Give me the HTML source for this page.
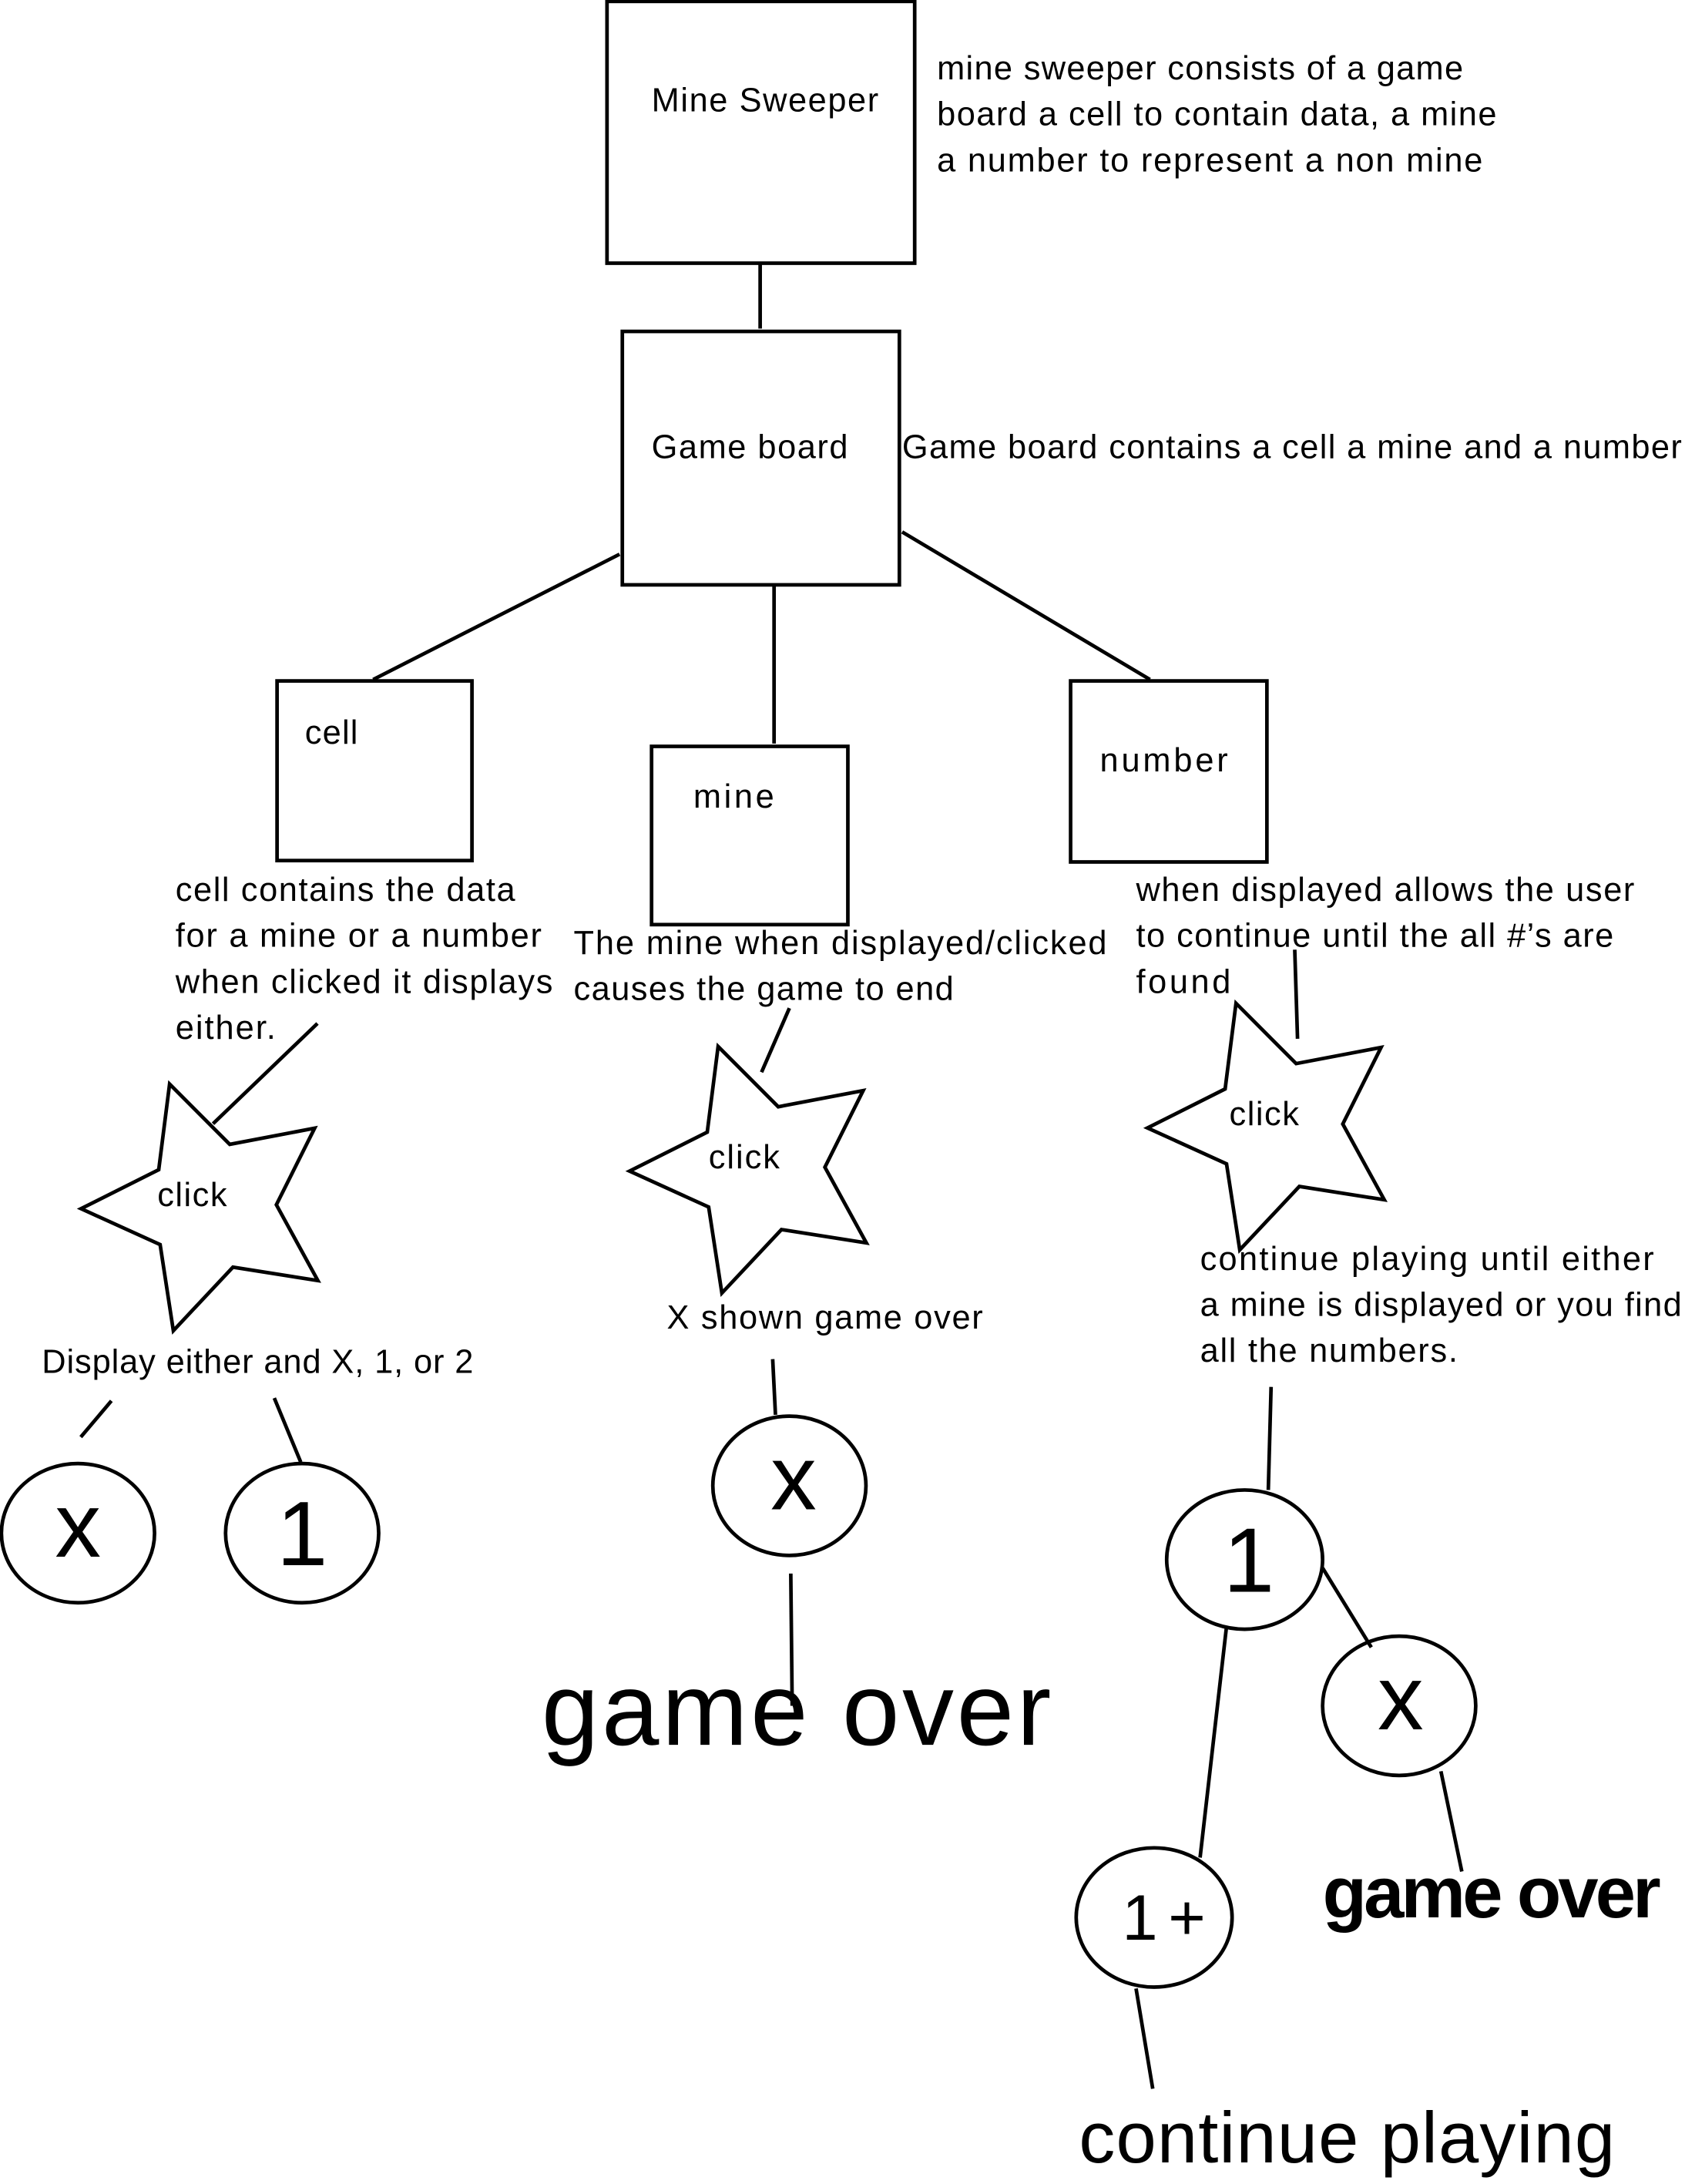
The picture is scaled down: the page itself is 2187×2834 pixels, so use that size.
<!DOCTYPE html>
<html><head><meta charset="utf-8"><style>html,body{margin:0;padding:0;background:#fff}svg{display:block}</style></head>
<body>
<svg width="2187" height="2834" viewBox="0 0 1210.3 1568.4" xmlns="http://www.w3.org/2000/svg" font-family="Liberation Sans, sans-serif" fill="#000">
<g fill="none" stroke="#000" stroke-width="2.6">
<rect x="436" y="1" width="221" height="188"/>
<rect x="447" y="238" width="199" height="182"/>
<rect x="199" y="489" width="140" height="129"/>
<rect x="468" y="536" width="141" height="128"/>
<rect x="769" y="489" width="141" height="130"/>
<line x1="546" y1="189" x2="546" y2="236"/>
<line x1="445" y1="398" x2="268" y2="488"/>
<line x1="556" y1="421" x2="556" y2="534"/>
<line x1="648" y1="382" x2="826" y2="488"/>
<polygon id="st" points="121.8,778.5 165,821.8 226,810.2 198.5,865.2 228.3,919.6 167.3,910 124.5,955.6 115,893.8 58.2,868 114,840"/>
<polygon points="121.8,778.5 165,821.8 226,810.2 198.5,865.2 228.3,919.6 167.3,910 124.5,955.6 115,893.8 58.2,868 114,840" transform="translate(394,-27)"/>
<polygon points="121.8,778.5 165,821.8 226,810.2 198.5,865.2 228.3,919.6 167.3,910 124.5,955.6 115,893.8 58.2,868 114,840" transform="translate(766,-58)"/>
<line x1="228" y1="735" x2="153" y2="807"/>
<line x1="567" y1="724" x2="547" y2="770"/>
<line x1="930" y1="682" x2="932" y2="746"/>
<line x1="80" y1="1006" x2="58" y2="1032"/>
<line x1="197" y1="1004" x2="216" y2="1050"/>
<ellipse cx="56" cy="1101" rx="55" ry="50"/>
<ellipse cx="217" cy="1101" rx="55" ry="50"/>
<line x1="555" y1="976" x2="557" y2="1016"/>
<ellipse cx="567" cy="1067" rx="55" ry="50"/>
<line x1="568" y1="1130" x2="569" y2="1225"/>
<line x1="913" y1="996" x2="911" y2="1070"/>
<ellipse cx="894" cy="1120" rx="56" ry="50"/>
<ellipse cx="1005" cy="1225" rx="55" ry="50"/>
<line x1="950" y1="1126" x2="985" y2="1183"/>
<line x1="881" y1="1168" x2="862" y2="1334"/>
<ellipse cx="829" cy="1377" rx="56" ry="50"/>
<line x1="1035" y1="1272" x2="1050" y2="1344"/>
<line x1="816" y1="1428" x2="828" y2="1500"/>
</g>
<g font-size="24">
<text x="468" y="80" textLength="163">Mine Sweeper</text>
<text x="673" y="57" textLength="378">mine sweeper consists of a game</text>
<text x="673" y="90" textLength="402">board a cell to contain data, a mine</text>
<text x="673" y="123" textLength="392">a number to represent a non mine</text>
<text x="468" y="329" textLength="141">Game board</text>
<text x="648" y="329" textLength="560">Game board contains a cell a mine and a number</text>
<text x="219" y="534" textLength="38">cell</text>
<text x="498" y="580" textLength="58">mine</text>
<text x="790" y="554" textLength="92">number</text>
<text x="126" y="647" textLength="244">cell contains the data</text>
<text x="126" y="680" textLength="263">for a mine or a number</text>
<text x="126" y="713" textLength="271">when clicked it displays</text>
<text x="126" y="746" textLength="72">either.</text>
<text x="412" y="685" textLength="383">The mine when displayed/clicked</text>
<text x="412" y="718" textLength="273">causes the game to end</text>
<text x="816" y="647" textLength="358">when displayed allows the user</text>
<text x="816" y="680" textLength="343">to continue until the all #’s are</text>
<text x="816" y="713" textLength="68">found</text>
<text x="113" y="866" textLength="50">click</text>
<text x="509" y="839" textLength="51">click</text>
<text x="883" y="808" textLength="50">click</text>
<text x="30" y="986" textLength="310">Display either and X, 1, or 2</text>
<text x="479" y="954" textLength="227">X shown game over</text>
<text x="862" y="912" textLength="326">continue playing until either</text>
<text x="862" y="945" textLength="346">a mine is displayed or you find</text>
<text x="862" y="978" textLength="185">all the numbers.</text>
</g>
<g font-size="66">
<text x="56" y="1118" text-anchor="middle">x</text>
<text x="217" y="1124" text-anchor="middle">1</text>
<text x="570" y="1084" text-anchor="middle">x</text>
<text x="897" y="1143" text-anchor="middle">1</text>
<text x="1006" y="1242" text-anchor="middle">x</text>
</g>
<text x="806" y="1393" font-size="46" textLength="60">1+</text>
<text x="389" y="1253" font-size="74" textLength="366">game over</text>
<text x="950" y="1377" font-size="52" font-weight="bold" textLength="243">game over</text>
<text x="775" y="1553" font-size="52" textLength="385">continue playing</text>
</svg>
</body></html>
